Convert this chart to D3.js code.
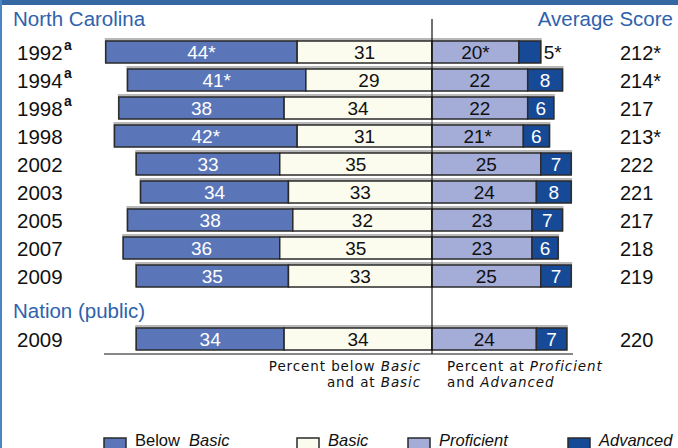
<!DOCTYPE html>
<html>
<head>
<meta charset="utf-8">
<script src="https://cdn.jsdelivr.net/npm/d3@7"></script>
<style>
  body { margin: 0; background: #fff; }
  text { font-family: Arial, "Liberation Sans", sans-serif; }
</style>
</head>
<body>
<script>
var width = 678,
    height = 448;

// data
const years = ["1992", "1994", "1998", "1998", "2002", "2003", "2005", "2007", "2009"];
const yearNote = ["a", "a", "a", "", "", "", "", "", ""];
const belowBasic = ["44*", "41*", "38", "42*", "33", "34", "38", "36", "35"];
const basic = ["31", "29", "34", "31", "35", "33", "32", "35", "33"];
const proficient = ["20*", "22", "22", "21*", "25", "24", "23", "23", "25"];
const advanced = ["5*", "8", "6", "6", "7", "8", "7", "6", "7"];
const avgScore = ["212*", "214*", "217", "213*", "222", "221", "217", "218", "219"];

const nationYear = "2009";
const nationValues = ["34", "34", "24", "7"];
const nationScore = "220";

const legendLabels = [["Below\u00a0 ", "Basic"], ["", "Basic"], ["", "Proficient"], ["", "Advanced"]];
const colors = ["#5a76b8", "#fcfcee", "#a3add8", "#164a97"];
const textColors = ["#fff", "#111", "#111", "#fff"];

const svg = d3.select("body").append("svg")
    .attr("width", width)
    .attr("height", height);

// frame
svg.append("rect").attr("x", 0).attr("y", 0).attr("width", width).attr("height", 5).attr("fill", "#3567a3");
svg.append("rect").attr("x", 0).attr("y", 0).attr("width", 2).attr("height", height).attr("fill", "#4a85c6");

const x = d3.scaleLinear().domain([-80, 40]).range([432 - 80 * 4.35, 432 + 40 * 4.35]);
const y = d3.scalePoint().domain(d3.range(years.length)).range([52, 276]);
const barH = 22;

const num = s => parseFloat(s);

function drawRow(g, vals, cy) {
    const v = vals.map(num);
    const segs = [
        {x0: -(v[0] + v[1]), x1: -v[1]},
        {x0: -v[1], x1: 0},
        {x0: 0, x1: v[2]},
        {x0: v[2], x1: v[2] + v[3]}
    ];
    // gray shadow behind the bar
    g.append("rect")
        .attr("x", x(segs[0].x0) - 1)
        .attr("y", cy - barH / 2 - 3)
        .attr("width", x(segs[3].x1) - x(segs[0].x0) + 2)
        .attr("height", barH + 3)
        .attr("fill", "#b8b8b8");
    g.selectAll("rect.seg").data(segs).enter().append("rect")
        .attr("class", "seg")
        .attr("x", d => x(d.x0))
        .attr("y", cy - barH / 2)
        .attr("width", d => x(d.x1) - x(d.x0))
        .attr("height", barH)
        .attr("fill", (d, i) => colors[i])
        .attr("stroke", "#2a2a2a")
        .attr("stroke-width", 1.5);
    const outside = (i) => i === 3 && v[3] < 6;
    g.selectAll("text.val").data(segs).enter().append("text")
        .attr("class", "val")
        .attr("x", (d, i) => outside(i) ? x(d.x1) + 3 : (x(d.x0) + x(d.x1)) / 2)
        .attr("y", cy + 7)
        .attr("text-anchor", (d, i) => outside(i) ? "start" : "middle")
        .attr("font-size", 19)
        .attr("fill", (d, i) => outside(i) ? "#111" : textColors[i])
        .text((d, i) => vals[i]);
}

// headers
svg.append("text").attr("x", 13).attr("y", 26).attr("font-size", 20.5).attr("fill", "#2e62ac").text("North Carolina");
svg.append("text").attr("x", 673).attr("y", 26).attr("font-size", 20.5).attr("fill", "#2e62ac")
    .attr("text-anchor", "end").text("Average Score");
svg.append("text").attr("x", 13).attr("y", 318).attr("font-size", 20.5).attr("fill", "#2e62ac").text("Nation (public)");

const rows = svg.append("g");
years.forEach((yr, i) => {
    const cy = y(i);
    rows.append("text").attr("x", 17).attr("y", cy + 8).attr("font-size", 20.5).attr("fill", "#111").text(yr);
    if (yearNote[i]) {
        rows.append("text").attr("x", 64).attr("y", cy - 2).attr("font-size", 14).attr("font-weight", "bold")
            .attr("fill", "#111").text(yearNote[i]);
    }
    drawRow(rows.append("g"), [belowBasic[i], basic[i], proficient[i], advanced[i]], cy);
    rows.append("text").attr("x", 620).attr("y", cy + 8).attr("font-size", 20).attr("fill", "#111").text(avgScore[i]);
});

const nationY = 339;
svg.append("text").attr("x", 17).attr("y", nationY + 8).attr("font-size", 20.5).attr("fill", "#111").text(nationYear);
drawRow(svg.append("g"), nationValues, nationY);
svg.append("text").attr("x", 620).attr("y", nationY + 8).attr("font-size", 20).attr("fill", "#111").text(nationScore);

// center line and baseline
svg.append("line").attr("x1", x(0)).attr("x2", x(0)).attr("y1", 19).attr("y2", 354)
    .attr("stroke", "#111").attr("stroke-width", 1.2);
svg.append("line").attr("x1", 104).attr("x2", 573).attr("y1", 354).attr("y2", 354)
    .attr("stroke", "#111").attr("stroke-width", 1.2);

// axis captions
function caption(xp, yp, anchor, parts) {
    const t = svg.append("text").attr("x", xp).attr("y", yp).attr("font-size", 13.5)
        .style("font-family", "'DejaVu Sans', sans-serif")
        .attr("letter-spacing", 0.9)
        .attr("text-anchor", anchor).attr("fill", "#111");
    parts.forEach(p => t.append("tspan").attr("font-style", p[1] ? "italic" : null).text(p[0]));
}
caption(421, 371, "end", [["Percent below ", false], ["Basic", true]]);
caption(421, 387, "end", [["and at ", false], ["Basic", true]]);
caption(447, 371, "start", [["Percent at ", false], ["Proficient", true]]);
caption(447, 387, "start", [["and ", false], ["Advanced", true]]);

// legend
const legendX = [104, 297, 408, 568];
const legend = svg.append("g").selectAll("g").data(legendLabels).enter().append("g");
legend.append("rect")
    .attr("x", (d, i) => legendX[i])
    .attr("y", 438)
    .attr("width", 22)
    .attr("height", 22)
    .attr("fill", (d, i) => colors[i])
    .attr("stroke", "#2a2a2a")
    .attr("stroke-width", 1.5);
legend.append("text")
    .attr("x", (d, i) => legendX[i] + 31)
    .attr("y", 446)
    .attr("font-size", 16.5)
    .attr("fill", "#111")
    .each(function(d) {
        const t = d3.select(this);
        if (d[0]) t.append("tspan").text(d[0]);
        t.append("tspan").attr("font-style", "italic").text(d[1]);
    });
</script>
</body>
</html>
